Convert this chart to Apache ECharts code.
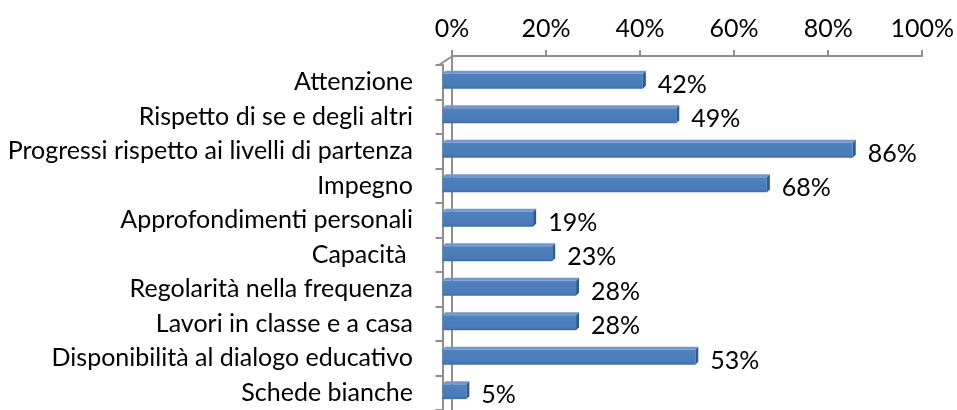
<!DOCTYPE html>
<html>
<head>
<meta charset="utf-8">
<script src="https://cdn.jsdelivr.net/npm/echarts@6/dist/echarts.min.js"></script>
<style>
  html, body { margin: 0; padding: 0; background: #fff; }
  #chart { width: 957px; height: 410px; }
</style>
</head>
<body>
<div id="chart"></div>
<script>
const categories = [
  'Attenzione',
  'Rispetto di se e degli altri',
  'Progressi rispetto ai livelli di partenza',
  'Impegno',
  'Approfondimenti personali',
  'Capacità ',
  'Regolarità nella frequenza',
  'Lavori in classe e a casa',
  'Disponibilità al dialogo educativo',
  'Schede bianche'
]
const values = [42, 49, 86, 68, 19, 23, 28, 28, 53, 5]
const xTicks = [0, 20, 40, 60, 80, 100]

const FONT = 'Lato'
const FONT_SIZE = 25
const AXIS_GREY = '#8e8e8e'

const chart = echarts.init(document.getElementById('chart'))

// pseudo-3D bar, like the excel original
function renderBar(params, api) {
  const v = api.value(0)
  const i = api.value(1)
  const p0 = api.coord([0, i])
  const p1 = api.coord([v, i])
  const band = api.size([0, 1])[1]
  const c = p0[1]
  const d = 3
  const x0 = p0[0]
  const x1 = p1[0]
  const yt = c - band * 0.245
  const h = band * 0.43
  const yb = yt + h
  const children = [
    {
      type: 'polygon',
      shape: { points: [[x0, yt], [x1, yt], [x1 + d, yt - d], [x0 + d, yt - d]] },
      style: { fill: '#7299cc' }
    },
    {
      type: 'polygon',
      shape: { points: [[x1, yt], [x1 + d, yt - d], [x1 + d, yb - d], [x1, yb]] },
      style: { fill: '#2f5b90' }
    },
    {
      type: 'rect',
      shape: { x: x0, y: yt, width: x1 - x0, height: h },
      style: {
        fill: new echarts.graphic.LinearGradient(0, 0, 0, 1, [
          { offset: 0, color: '#4f81bd' },
          { offset: 0.8, color: '#4a7cb9' },
          { offset: 1, color: '#3f6ca6' }
        ])
      }
    },
    {
      type: 'text',
      style: {
        x: x1 + d + 12, y: c + 2.5,
        text: v + '%',
        fill: '#000',
        font: FONT_SIZE + 'px ' + FONT,
        verticalAlign: 'middle',
        align: 'left'
      }
    }
  ]
  if (params.dataIndex === 0) {
    // little diagonal joining the floor to the back wall
    children.push({
      type: 'line',
      shape: { x1: x0 + 8.5, y1: c - band / 2 - 8, x2: x0 - 3.5, y2: c - band / 2 },
      style: { stroke: AXIS_GREY, lineWidth: 2 }
    })
  }
  return { type: 'group', children: children }
}

const option = {
  animation: false,
  backgroundColor: '#fff',
  textStyle: { fontFamily: FONT },
  grid: [
    { left: 452, right: 32, top: 56, bottom: -8 },
    { left: 442.5, right: 37.5, top: 65, bottom: -8 }
  ],
  xAxis: [
    {
      gridIndex: 0,
      type: 'value',
      position: 'top',
      min: xTicks[0],
      max: xTicks[xTicks.length - 1],
      interval: 20,
      axisLine: { show: true, lineStyle: { color: AXIS_GREY, width: 2 } },
      axisTick: { show: true, length: 6, lineStyle: { color: AXIS_GREY, width: 2 } },
      splitLine: { show: false },
      axisLabel: { formatter: '{value}%', color: '#000', fontSize: FONT_SIZE, fontFamily: FONT, margin: 15 }
    },
    {
      gridIndex: 1,
      type: 'value',
      min: 0,
      max: 100,
      show: false
    }
  ],
  yAxis: [
    {
      // back wall
      gridIndex: 0,
      type: 'category',
      inverse: true,
      data: categories,
      offset: 1,
      axisLine: { show: true, lineStyle: { color: AXIS_GREY, width: 2 } },
      axisTick: { show: false },
      axisLabel: { show: false }
    },
    {
      gridIndex: 1,
      type: 'category',
      inverse: true,
      data: categories,
      offset: 3.5,
      axisLine: { show: true, lineStyle: { color: AXIS_GREY, width: 2 } },
      axisTick: { show: true, length: 7, lineStyle: { color: AXIS_GREY, width: 2 } },
      axisLabel: { color: '#000', fontSize: FONT_SIZE, fontFamily: FONT, margin: 26 }
    }
  ],
  series: [{
    type: 'custom',
    xAxisIndex: 1,
    yAxisIndex: 1,
    renderItem: renderBar,
    encode: { x: 0, y: 1 },
    data: values.map((v, i) => [v, i])
  }]
}

chart.setOption(option)
</script>
</body>
</html>
